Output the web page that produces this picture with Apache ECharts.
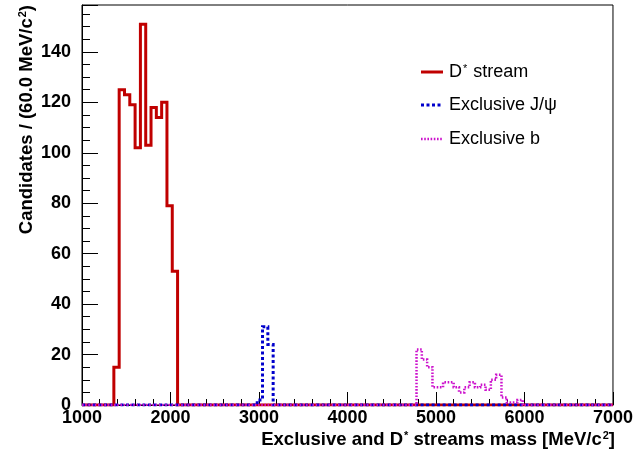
<!DOCTYPE html>
<html>
<head>
<meta charset="utf-8">
<script src="https://cdn.jsdelivr.net/npm/echarts@6/dist/echarts.min.js"></script>
<style>
  html, body { margin: 0; padding: 0; background: #fff; }
  #chart { width: 636px; height: 452px; }
</style>
</head>
<body>
<div id="chart"></div>
<script>
// Histogram binning (MeV/c^2)
const xMin = 1000;
const xMax = 7000;
const binWidth = 60;

// Candidates per bin; each stream lists its first non-empty bin edge and the counts from there on
const dStarFirstEdge = 1360;
const dStarCounts = [15, 125, 123, 119, 102, 151, 103, 118, 114, 120, 79, 53];

const jpsiFirstEdge = 2980;
const jpsiCounts = [2, 31, 24];

const exclBFirstEdge = 4780;
const exclBCounts = [22, 18, 15, 7, 7, 9, 9, 7, 5, 7, 9, 7, 8, 6, 10, 12, 3, 1, 1, 2];

// Axis settings
const xTickValues = [1000, 2000, 3000, 4000, 5000, 6000, 7000];
const yTickValues = [0, 20, 40, 60, 80, 100, 120, 140];
const yMax = 158.6;

const FONT = '"Liberation Sans", Arial, Helvetica, sans-serif';

// Turn a sparse list of counts into step-line points over the full range
function histPoints(firstEdge, counts) {
  const nBins = Math.round((xMax - xMin) / binWidth);
  const firstBin = Math.round((firstEdge - xMin) / binWidth);
  const pts = [];
  for (let i = 0; i < nBins; i++) {
    const k = i - firstBin;
    const v = (k >= 0 && k < counts.length) ? counts[k] : 0;
    pts.push([xMin + i * binWidth, v]);
  }
  pts.push([xMax, pts[pts.length - 1][1]]);
  return pts;
}

const red = '#c00000';
const blue = '#0000cc';
const magenta = '#cc11cc';

const chart = echarts.init(document.getElementById('chart'), null, { renderer: 'canvas' });

const legendX = 421;
const legendItems = [
  { y: 72, color: red, width: 3, dash: 'solid', text: 'D{sup|*} stream' },
  { y: 105, color: blue, width: 3, dash: [3, 2.5], text: 'Exclusive J/\u03c8' },
  { y: 139, color: magenta, width: 2.5, dash: [1.6, 1.6], text: 'Exclusive b' }
];

const supStyle = { fontSize: 11, fontWeight: 'bold', fontFamily: FONT, verticalAlign: 'top', padding: [0, 0, 0, 1] };

const graphics = [];
legendItems.forEach(function (it) {
  graphics.push({
    type: 'line',
    shape: { x1: legendX, y1: it.y, x2: legendX + 22, y2: it.y },
    style: { stroke: it.color, lineWidth: it.width, lineDash: it.dash },
    z: 10
  });
  graphics.push({
    type: 'text',
    x: legendX + 28,
    y: it.y,
    style: {
      text: it.text,
      fontSize: 18,
      fontFamily: FONT,
      fill: '#000',
      verticalAlign: 'middle',
      rich: { sup: { fontSize: 11, fontFamily: FONT, verticalAlign: 'top', padding: [0, 1, 0, 1] } }
    },
    z: 10
  });
});

// Axis titles
graphics.push({
  type: 'text',
  x: 615,
  y: 440,
  style: {
    text: 'Exclusive and D{sup|*} streams mass [MeV/c{sup|2}]',
    fontSize: 18.5,
    fontWeight: 'bold',
    fontFamily: FONT,
    fill: '#000',
    align: 'right',
    verticalAlign: 'middle',
    rich: { sup: supStyle }
  },
  z: 10
});
graphics.push({
  type: 'text',
  x: 27,
  y: 5,
  rotation: Math.PI / 2,
  style: {
    text: 'Candidates / (60.0 MeV/c{sup|2})',
    fontSize: 18.5,
    fontWeight: 'bold',
    fontFamily: FONT,
    fill: '#000',
    align: 'right',
    verticalAlign: 'middle',
    rich: { sup: supStyle }
  },
  z: 10
});

function histSeries(name, pts, color, width, dash) {
  return {
    name: name,
    type: 'line',
    step: 'end',
    symbol: 'none',
    silent: true,
    animation: false,
    data: pts,
    lineStyle: { color: color, width: width, type: dash, cap: 'butt', join: 'miter' }
  };
}

chart.setOption({
  animation: false,
  backgroundColor: '#fff',
  grid: {
    left: 82, right: 21, top: 5, bottom: 47,
    show: true, borderColor: '#000', borderWidth: 1, backgroundColor: '#fff'
  },
  xAxis: {
    type: 'value',
    min: xTickValues[0],
    max: xTickValues[xTickValues.length - 1],
    interval: xTickValues[1] - xTickValues[0],
    axisLine: { show: true, lineStyle: { color: '#000', width: 1 } },
    axisTick: { show: true, inside: true, length: 13, lineStyle: { color: '#000', width: 1 } },
    minorTick: { show: true, splitNumber: 5, length: 6, lineStyle: { color: '#000', width: 1 } },
    splitLine: { show: false },
    axisLabel: {
      show: true, margin: 4, color: '#000', fontSize: 18, fontWeight: 'bold', fontFamily: FONT,
      formatter: function (v) { return xTickValues.indexOf(v) >= 0 ? String(v) : ''; }
    }
  },
  yAxis: {
    type: 'value',
    min: 0,
    max: yMax,
    interval: yTickValues[1] - yTickValues[0],
    axisLine: { show: true, lineStyle: { color: '#000', width: 1 } },
    axisTick: { show: true, inside: true, length: 16, lineStyle: { color: '#000', width: 1 } },
    minorTick: { show: true, splitNumber: 4, length: 8, lineStyle: { color: '#000', width: 1 } },
    splitLine: { show: false },
    axisLabel: {
      show: true, margin: 11, color: '#000', fontSize: 18, fontWeight: 'bold', fontFamily: FONT,
      showMaxLabel: false,
      formatter: function (v) { return yTickValues.indexOf(v) >= 0 ? String(v) : ''; }
    }
  },
  series: [
    histSeries('D* stream', histPoints(dStarFirstEdge, dStarCounts), red, 3, 'solid'),
    histSeries('Exclusive J/\u03c8', histPoints(jpsiFirstEdge, jpsiCounts), blue, 3, [3, 2.5]),
    histSeries('Exclusive b', histPoints(exclBFirstEdge, exclBCounts), magenta, 2.5, [1.6, 1.6])
  ],
  graphic: graphics
});
</script>
</body>
</html>
